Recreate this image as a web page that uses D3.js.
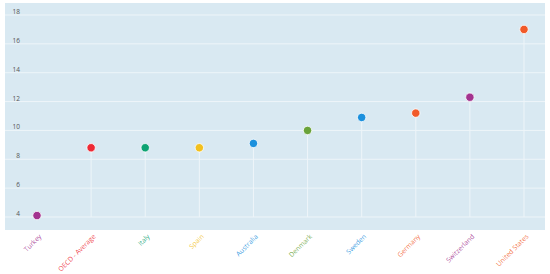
<!DOCTYPE html>
<html>
<head>
<meta charset="utf-8">
<script src="https://cdn.jsdelivr.net/npm/d3@7"></script>
<style>
  body { margin: 0; background: #fff; }
  svg { display: block; font-family: "Open Sans", "Noto Sans", sans-serif; }
</style>
</head>
<body>
<div id="chart"></div>
<script>
// Chart data
const countries = ['Turkey', 'OECD - Average', 'Italy', 'Spain', 'Australia',
    'Denmark', 'Sweden', 'Germany', 'Switzerland', 'United States'];
const values = [4.1, 8.8, 8.8, 8.8, 9.1, 10.0, 10.9, 11.2, 12.3, 17.0];
const colors = ['#a3338f', '#ee2a35', '#0da373', '#f2c01e', '#1b90dd',
    '#6aa33a', '#1b90dd', '#f15a29', '#a3338f', '#f15a29'];
const yTicks = [4, 6, 8, 10, 12, 14, 16, 18];

const width = 550;
const height = 274;
const plot = { left: 5, right: 545, top: 3, bottom: 230 };

const svg = d3.select('#chart')
    .append('svg')
    .attr('width', width)
    .attr('height', height);

const x = d3.scalePoint()
    .domain(countries)
    .range([37, 524]);

const y = d3.scaleLinear()
    .domain([4, 18])
    .range([217, 15]);

// Plot background
svg.append('rect')
    .attr('x', plot.left)
    .attr('y', plot.top)
    .attr('width', plot.right - plot.left)
    .attr('height', plot.bottom - plot.top)
    .attr('fill', '#d9e9f2');

// Horizontal grid lines
svg.append('g')
    .selectAll('line')
    .data(yTicks)
    .enter()
    .append('line')
    .attr('x1', plot.left)
    .attr('x2', plot.right)
    .attr('y1', d => y(d))
    .attr('y2', d => y(d))
    .attr('stroke', '#eef5f9')
    .attr('stroke-width', 1);

// Y tick labels (drawn inside the plot)
svg.append('g')
    .selectAll('text')
    .data(yTicks)
    .enter()
    .append('text')
    .attr('x', 20)
    .attr('y', d => y(d) - 1)
    .attr('text-anchor', 'end')
    .attr('font-size', '6.5px')
    .attr('fill', '#555')
    .text(d => d);

// Stems
svg.append('g')
    .selectAll('line')
    .data(countries)
    .enter()
    .append('line')
    .attr('x1', d => x(d))
    .attr('x2', d => x(d))
    .attr('y1', (d, i) => y(values[i]))
    .attr('y2', y(4))
    .attr('stroke', '#eef5f9')
    .attr('stroke-width', 1);

// Points
svg.append('g')
    .selectAll('circle')
    .data(countries)
    .enter()
    .append('circle')
    .attr('cx', d => x(d))
    .attr('cy', (d, i) => y(values[i]))
    .attr('r', 4.2)
    .attr('fill', (d, i) => colors[i])
    .attr('stroke', '#fff')
    .attr('stroke-width', 0.8);

// Category labels, rotated
svg.append('g')
    .selectAll('text')
    .data(countries)
    .enter()
    .append('text')
    .attr('transform', d => `translate(${x(d) + 5},${plot.bottom + 7}) rotate(-45)`)
    .attr('text-anchor', 'end')
    .attr('font-size', '6.8px')
    .attr('fill', (d, i) => colors[i])
    .attr('fill-opacity', 0.85)
    .text(d => d);
</script>
</body>
</html>
